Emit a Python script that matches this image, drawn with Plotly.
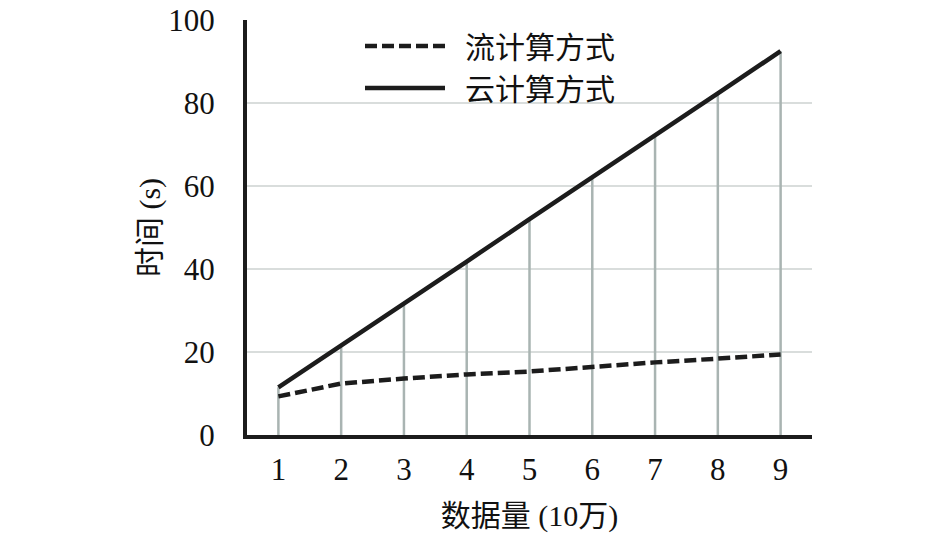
import plotly.graph_objects as go

# data
data_size = [1, 2, 3, 4, 5, 6, 7, 8, 9]
stream_time = [9.3, 12.4, 13.6, 14.6, 15.3, 16.5, 17.5, 18.4, 19.4]
cloud_time = [11.5, 21.5, 31.5, 41.8, 52.0, 62.0, 72.3, 82.3, 92.5]
y_ticks = [0, 20, 40, 60, 80, 100]
x_title = "数据量 (10万)"
y_title = "时间 (s)"
names = ["流计算方式", "云计算方式"]

FONT = "Liberation Serif, Noto Sans CJK SC"

# gray drop lines from 0 up to the cloud curve
drop_x, drop_y = [], []
for xv, yv in zip(data_size, cloud_time):
    drop_x += [xv, xv, None]
    drop_y += [0, yv, None]

fig = go.Figure()
fig.add_trace(go.Scatter(
    x=drop_x, y=drop_y, mode="lines",
    line=dict(color="#a9b4b2", width=2.5),
    showlegend=False, hoverinfo="skip",
))
fig.add_trace(go.Scatter(
    x=data_size, y=stream_time, mode="lines", name="\u2002" + names[0],
    line=dict(color="#1c1c1c", width=4.5, dash="12px,5px"),
))
fig.add_trace(go.Scatter(
    x=data_size, y=cloud_time, mode="lines", name="\u2002" + names[1],
    line=dict(color="#1c1c1c", width=4.5),
))

fig.update_layout(
    width=946, height=542,
    margin=dict(l=239, r=142, t=12, b=115),
    plot_bgcolor="white", paper_bgcolor="white",
    font=dict(family=FONT, size=31, color="#111111"),
    legend=dict(
        x=0.2, y=1.0, xanchor="left", yanchor="top",
        bgcolor="rgba(0,0,0,0)", itemwidth=80,
        font=dict(size=30), tracegroupgap=0,
    ),
    xaxis=dict(
        range=[0.5, 9.5], tickvals=data_size,
        showgrid=False, zeroline=False,
        showline=True, linecolor="#1c1c1c", linewidth=4,
        ticks="", ticklabelstandoff=4, automargin=False,
        title=dict(text=x_title, standoff=20, font=dict(size=30)),
    ),
    yaxis=dict(
        range=[0, 100], tickvals=y_ticks,
        showgrid=True, gridcolor="#d9dddc", gridwidth=1.5,
        zeroline=False,
        showline=True, linecolor="#1c1c1c", linewidth=4,
        ticks="", ticklabelstandoff=22, automargin=False,
        ticklabeloverflow="allow",
        title=dict(text=y_title, standoff=0, font=dict(size=30)),
    ),
)

fig.write_html("out.html")
